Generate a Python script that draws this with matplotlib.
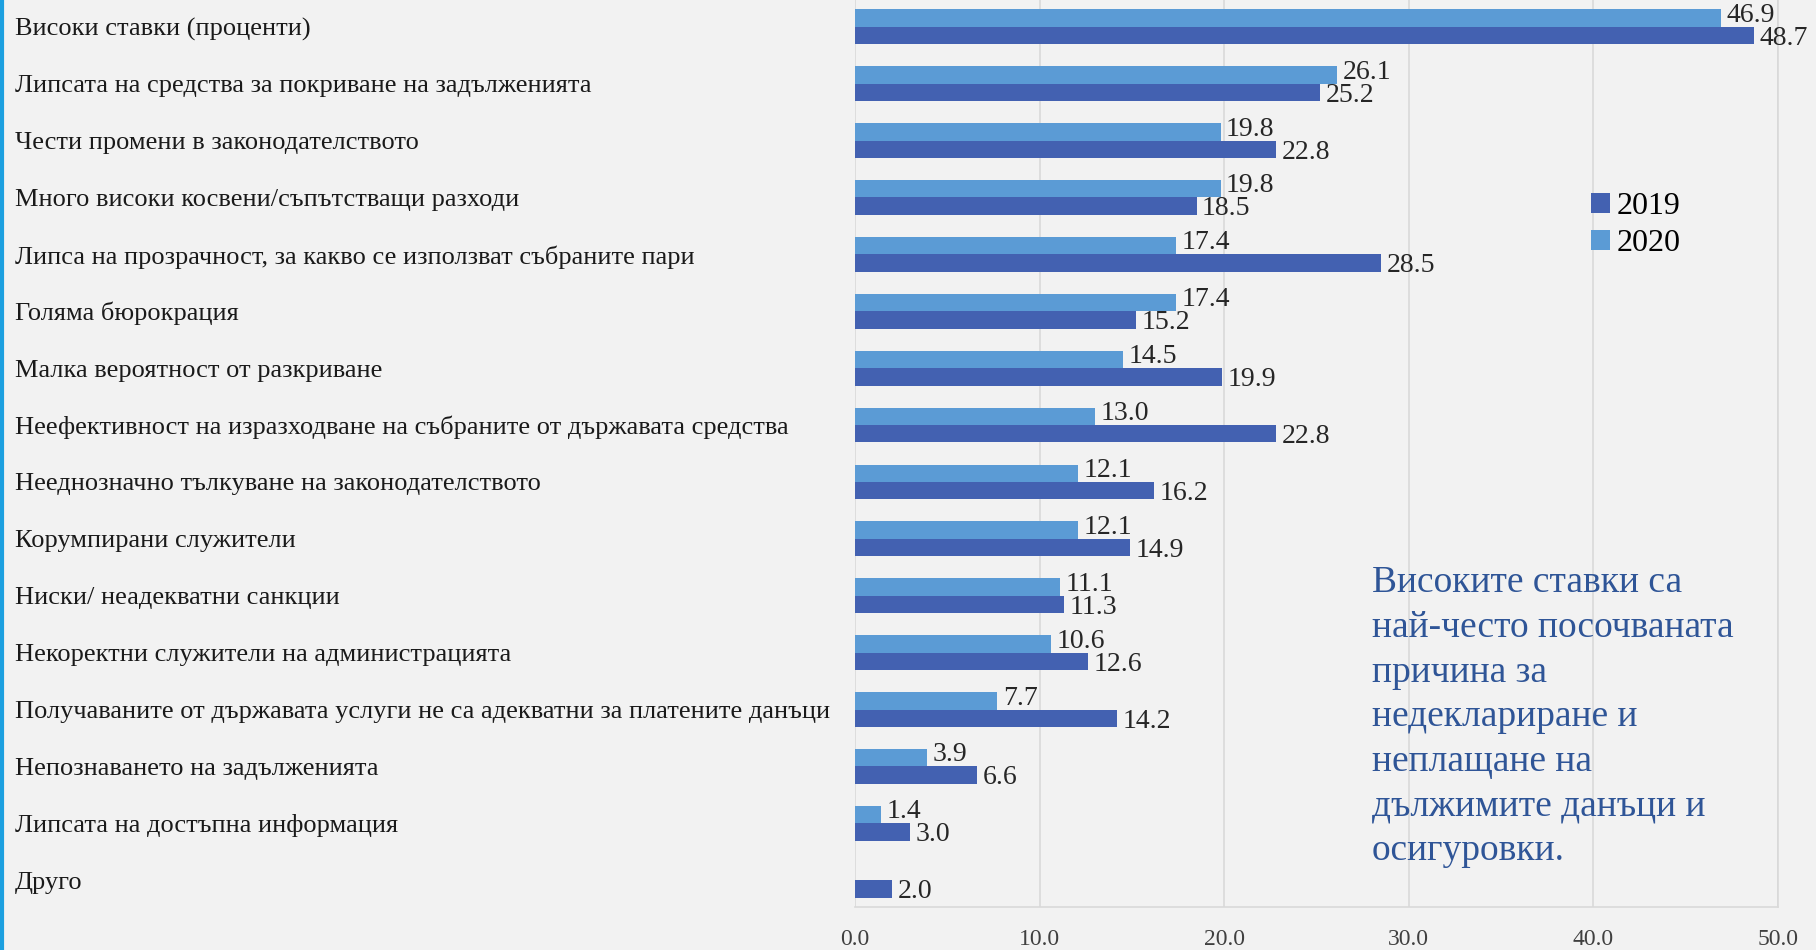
import matplotlib
matplotlib.use("Agg")
import matplotlib.pyplot as plt
from matplotlib.lines import Line2D
import numpy as np

# Reasons for not declaring / not paying taxes (%)
categories = [
    "Високи ставки (проценти)",
    "Липсата на средства за покриване на задълженията",
    "Чести промени в законодателството",
    "Много високи косвени/съпътстващи разходи",
    "Липса на прозрачност, за какво се използват събраните пари",
    "Голяма бюрокрация",
    "Малка вероятност от разкриване",
    "Неефективност на изразходване на събраните от държавата средства",
    "Нееднозначно тълкуване на законодателството",
    "Корумпирани служители",
    "Ниски/ неадекватни санкции",
    "Некоректни служители на администрацията",
    "Получаваните от държавата услуги не са адекватни за платените данъци",
    "Непознаването на задълженията",
    "Липсата на достъпна информация",
    "Друго",
]
vals_2019 = [48.7, 25.2, 22.8, 18.5, 28.5, 15.2, 19.9, 22.8, 16.2, 14.9, 11.3, 12.6, 14.2, 6.6, 3.0, 2.0]
vals_2020 = [46.9, 26.1, 19.8, 19.8, 17.4, 17.4, 14.5, 13.0, 12.1, 12.1, 11.1, 10.6, 7.7, 3.9, 1.4, None]
x_ticks = [0, 10, 20, 30, 40, 50]

note = ("Високите ставки са\nнай-често посочваната\nпричина за\nнедеклариране и\n"
        "неплащане на\nдължимите данъци и\nосигуровки.")

c2019 = "#4361b1"
c2020 = "#5b9bd5"
bg = "#f2f2f2"
serif = ["Liberation Serif", "DejaVu Serif"]

plt.rcParams["font.family"] = serif

W, H = 1816, 950
fig = plt.figure(figsize=(W / 100, H / 100), dpi=100, facecolor=bg)
ax = fig.add_axes([855 / W, (H - 907) / H, (1778 - 855) / W, 907 / H])
ax.set_facecolor(bg)

y = np.arange(len(categories))
bh = 0.305
v20 = [v if v is not None else 0 for v in vals_2020]
ax.barh(y - bh / 2, v20, height=bh, color=c2020, label="2020", zorder=3)
ax.barh(y + bh / 2, vals_2019, height=bh, color=c2019, label="2019", zorder=3)

# value labels: 2020 a bit above its bar centre, 2019 a bit below
for i in range(len(categories)):
    if vals_2020[i] is not None:
        ax.text(vals_2020[i] + 0.3, y[i] - bh / 2 - 0.05, f"{vals_2020[i]:.1f}",
                va="center", ha="left", fontsize=20, color="#262626", zorder=4)
    ax.text(vals_2019[i] + 0.3, y[i] + bh / 2 + 0.05, f"{vals_2019[i]:.1f}",
            va="center", ha="left", fontsize=20, color="#262626", zorder=4)

ax.set_xlim(0, 50)
ax.set_ylim(15.47, -0.47)
ax.set_xticks(x_ticks)
ax.set_xticklabels([f"{t:.1f}" for t in x_ticks], fontsize=17, color="#404040")
ax.set_yticks(y)
ax.set_yticklabels(categories, fontsize=19, color="#1a1a1a", ha="left")
ax.tick_params(axis="y", length=0, pad=(855 - 15) * 0.72)
ax.tick_params(axis="x", length=0, pad=16)
ax.grid(axis="x", color="#d9d9d9", linewidth=1.2, zorder=0)
for side in ["left", "top"]:
    ax.spines[side].set_visible(False)
for side in ["right", "bottom"]:
    ax.spines[side].set_color("#d9d9d9")
    ax.spines[side].set_linewidth(1.2)

handles, labels = ax.get_legend_handles_labels()
leg = ax.legend(handles[::-1], labels[::-1], loc="upper left",
                bbox_to_anchor=((1575 - 855) / (1778 - 855), (907 - 176) / 907),
                frameon=False, fontsize=23, handlelength=0.6, handleheight=0.6,
                handletextpad=0.2, labelspacing=0.25, borderpad=0)

fig.text(1372 / W, 1 - 566 / H, note, fontsize=27, color="#2f5597",
         va="top", ha="left", linespacing=1.38)

# blue frame line on the left edge
fig.add_artist(Line2D([2 / W, 2 / W], [0, 1], transform=fig.transFigure,
                      color="#1ca0e0", linewidth=3))

fig.savefig("out.png", dpi=100, facecolor=bg)
